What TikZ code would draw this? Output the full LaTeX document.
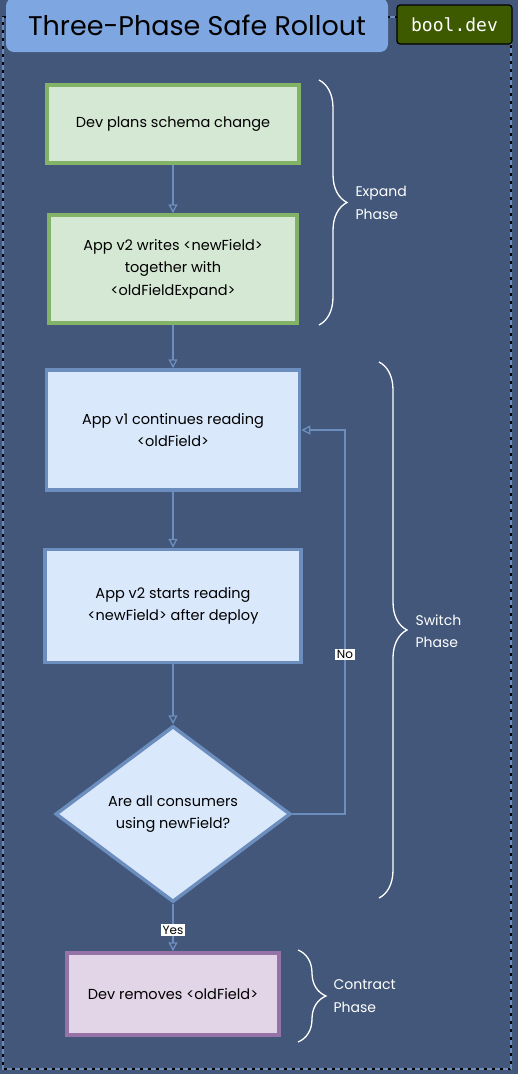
\documentclass[tikz,border=0pt]{standalone}
\usepackage{fontspec}
\setmainfont{Poppins}
\newfontfamily\badgefont{DejaVu Sans Mono}
\usetikzlibrary{shapes.geometric,arrows.meta,decorations.pathreplacing}

\definecolor{fondbleu}{HTML}{42577A}
\definecolor{titrebleu}{HTML}{7EA6E0}
\definecolor{vertfond}{HTML}{D5E8D4}
\definecolor{vertbord}{HTML}{82B366}
\definecolor{bleufond}{HTML}{DAE8FC}
\definecolor{bleubord}{HTML}{6C8EBF}
\definecolor{violetfond}{HTML}{E1D5E7}
\definecolor{violetbord}{HTML}{9673A6}
\definecolor{badgevert}{HTML}{3D5A00}

\begin{document}
\begin{tikzpicture}[x=1pt, y=-1pt,
  box/.style={rectangle, line width=3.5pt, align=center, text=black, inner sep=2pt,
    font=\fontsize{14.5}{22.5}\selectfont},
  greenbox/.style={box, fill=vertfond, draw=vertbord},
  bluebox/.style={box, fill=bleufond, draw=bleubord},
  purplebox/.style={box, fill=violetfond, draw=violetbord},
  flow/.style={draw=bleubord, line width=1.3pt, -{Triangle[open, length=9pt, width=9pt]}},
  lbl/.style={fill=white, text=black, inner sep=1.5pt, font=\fontsize{12}{13}\selectfont},
  phase/.style={draw=white, line width=1.3pt, decorate, decoration={brace, amplitude=28pt}},
  phasetext/.style={text=white, align=left, anchor=west, font=\fontsize{14}{22.5}\selectfont}]

  % 1. Fond et cadre pointillé
  \useasboundingbox (0,0) rectangle (518,1074);
  \fill[fondbleu] (0,0) rectangle (518,1074);
  \draw[black, line width=2.5pt] (3,17) rectangle (511,1069);
  \draw[bleubord, line width=2.5pt, dash pattern=on 5pt off 3pt] (3,17) rectangle (511,1069);

  % 2. Titre et badge
  \node[fill=titrebleu, rounded corners=8pt, minimum width=382pt, minimum height=54pt,
    font=\fontsize{27}{30}\selectfont] (TITRE) at (197,25) {Three-Phase Safe Rollout};
  \node[fill=badgevert, draw=black, line width=1.2pt, rounded corners=3pt, minimum width=115pt,
    minimum height=39pt, text=white, font=\badgefont\fontsize{18}{20}\selectfont]
    (BADGE) at (454.5,24.5) {bool.dev};

  % 3. Les étapes
  \node[greenbox, minimum width=252pt, minimum height=78pt] (PLAN) at (173,124)
    {Dev plans schema change};
  \node[greenbox, minimum width=248pt, minimum height=108pt] (WRITE) at (173,269)
    {App v2 writes <newField>\\ together with\\ <oldFieldExpand>};
  \node[bluebox, minimum width=253pt, minimum height=120pt] (READOLD) at (173,430)
    {App v1 continues reading\\ <oldField>};
  \node[bluebox, minimum width=256pt, minimum height=113pt] (READNEW) at (173,606)
    {App v2 starts reading\\ <newField> after deploy};
  \node[box, shape=diamond, fill=bleufond, draw=bleubord, inner sep=0pt,
    minimum width=235pt, minimum height=176pt] (CHECK) at (173,814)
    {Are all consumers\\ using newField?};
  \node[purplebox, minimum width=212pt, minimum height=82pt] (REMOVE) at (173,994)
    {Dev removes <oldField>};

  % 4. Flèches
  \draw[flow] (PLAN) -- (WRITE);
  \draw[flow] (WRITE) -- (READOLD);
  \draw[flow] (READOLD) -- (READNEW);
  \draw[flow] (READNEW) -- (CHECK);
  \draw[flow] (CHECK) -- node[lbl, pos=0.55] {Yes} (REMOVE);
  \coordinate (NOTURN) at (345,814);
  \draw[flow] (CHECK.east) -- (NOTURN) -- node[lbl, pos=0.415] {No} (NOTURN |- READOLD.east)
    -- (READOLD.east);

  % 5. Accolades des phases
  \draw[phase] (319,80) -- (319,325);
  \node[phasetext] (EXPAND) at (352,203) {Expand\\ Phase};
  \draw[phase] (379,362) -- (379,898);
  \node[phasetext] (SWITCH) at (412,631) {Switch\\ Phase};
  \draw[phase] (298,950) -- (298,1042);
  \node[phasetext] (CONTRACT) at (330,996) {Contract\\ Phase};

\end{tikzpicture}
\end{document}
